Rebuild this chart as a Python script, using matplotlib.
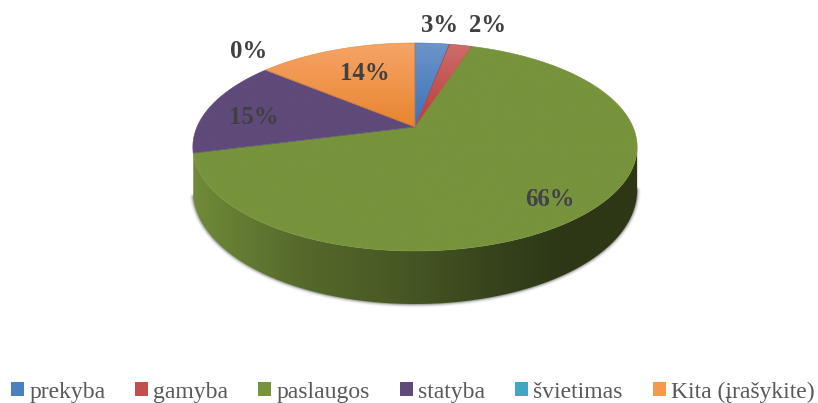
import numpy as np
import matplotlib
matplotlib.use("Agg")
import matplotlib.pyplot as plt
from matplotlib.colors import LinearSegmentedColormap, to_rgb
from matplotlib.patches import Patch, Polygon

categories = ["prekyba", "gamyba", "paslaugos", "statyba", "švietimas", "Kita (įrašykite)"]
values = [3, 2, 66, 15, 0, 14]
labels = ["3%", "2%", "66%", "15%", "0%", "14%"]

top_colors = [("#6c94c9", "#3b72b8"), ("#cc6d6a", "#be3a37"), ("#77933c", "#77933c"),
              ("#5f4a7a", "#5f4a7a"), ("#4bacc6", "#4bacc6"), ("#f6a468", "#e8852e")]
legend_colors = ["#4a80c0", "#c24f4c", "#77933c", "#5f4a7a", "#42a5c4", "#f5994a"]
label_pos = [(440, 26), (488, 25), (550, 199), (254, 118), (249, 52), (365, 74)]
label_col = ["#404040", "#404040", "#41424a", "#404040", "#404040", "#404040"]

W, H = 818, 403
plt.rcParams["font.family"] = ["Liberation Serif", "DejaVu Serif"]
fig = plt.figure(figsize=(W / 100, H / 100), dpi=100)
ax = fig.add_axes([0, 0, 1, 1])


def project(theta):
    """Perspective view of the unit disc (theta clockwise from the back of the pie)."""
    u, v = np.sin(theta), np.cos(theta)
    d = 1 + 0.1923 * v
    return 415 + 218 * u / d, (127 - 75.73 * v) / d, 40.5 - 12.5 * v


grad = np.linspace(0, 1, 256)[:, None]
fracs = np.cumsum([0] + values) / sum(values) * 2 * np.pi
wall_start = np.pi - np.arccos(0.1923)
wall_end = fracs[3]

# soft shadow around the wall
t = np.linspace(wall_start, wall_end, 300)
x, y, dy = project(t)
outline = np.column_stack([x, y + dy])
for lw, a in [(5, .05), (3.6, .09), (2.4, .14), (1.2, .25)]:
    ax.plot(outline[:, 0], outline[:, 1], color="#303030", lw=lw, alpha=a, zorder=1,
            solid_capstyle="round")

xgrid = np.linspace(190, 640, 450)
shade = np.interp(xgrid, [190, 230, 300, 415, 500, 560, 640], [.95, .86, .72, .58, .45, .38, .38])

for i, val in enumerate(values):
    lo, hi = max(fracs[i], wall_start), min(fracs[i + 1], wall_end)
    if hi <= lo:
        continue
    t = np.linspace(lo, hi, max(3, int(val * 8)))
    x, y, dy = project(t)
    c1 = to_rgb(top_colors[i][1])
    wall = np.column_stack([np.r_[x, x[::-1]], np.r_[y, (y + dy)[::-1]]])
    img = (shade[:, None] * np.array(c1))[None, :, :]
    pw = Polygon(wall, closed=True, transform=ax.transData, fc="none", ec="none")
    ax.add_patch(pw)
    im = ax.imshow(img, extent=(190, 640, 320, 0), aspect="auto", zorder=2, interpolation="bilinear")
    im.set_clip_path(pw)

for i, val in enumerate(values):
    if val == 0:
        continue
    t = np.linspace(fracs[i], fracs[i + 1], max(3, int(val * 8)))
    x, y, dy = project(t)
    c0, c1 = to_rgb(top_colors[i][0]), to_rgb(top_colors[i][1])
    top = np.column_stack([np.r_[415, x], np.r_[127, y]])
    p = Polygon(top, closed=True, fc="none", ec="none", transform=ax.transData)
    ax.add_patch(p)
    cmap = LinearSegmentedColormap.from_list("g", [c0, c1])
    im = ax.imshow(grad, cmap=cmap, extent=(190, 640, top[:, 1].max(), top[:, 1].min()),
                   aspect="auto", zorder=3, interpolation="bilinear")
    im.set_clip_path(p)
    ax.add_patch(Polygon(top, closed=True, fc="none", ec=c1, lw=.4, zorder=3.1))

for s, (lx, ly), c in zip(labels, label_pos, label_col):
    ax.text(lx, ly, s, ha="center", va="center", fontsize=17.8, fontweight="bold", color=c, zorder=5)

ax.set_xlim(0, W)
ax.set_ylim(H, 0)
ax.axis("off")

handles = [Patch(fc=c, ec="none") for c in legend_colors]
leg = fig.legend(handles, categories, ncols=6, loc="lower left", bbox_to_anchor=(11 / W, 0.001),
                 frameon=False, fontsize=17, labelcolor="#595959", handlelength=.55, handleheight=.55,
                 handletextpad=.22, columnspacing=1.27, borderpad=0, borderaxespad=0)

fig.savefig("out.png", dpi=100)
